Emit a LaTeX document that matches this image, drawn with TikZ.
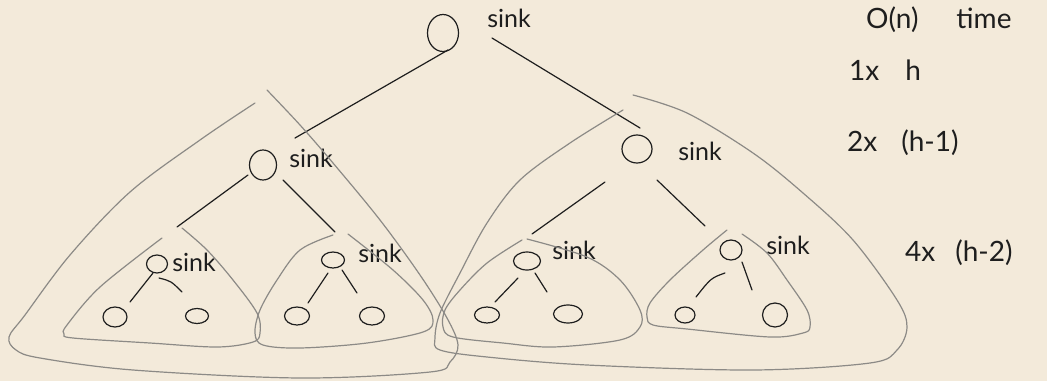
\documentclass[tikz,border=0pt]{standalone}
\usepackage{fontspec}
\setmainfont{Lato}
\usetikzlibrary{shapes.geometric}
\definecolor{paper}{RGB}{243,234,218}
\definecolor{ink}{RGB}{30,30,30}
\definecolor{pencil}{RGB}{140,138,134}
\tikzset{
  vert/.style 2 args={draw=ink, line width=1.2pt, ellipse, inner sep=0pt,
    minimum width=#1pt, minimum height=#2pt},
  edge/.style={draw=ink, line width=1.2pt, line cap=round},
  hull/.style={draw=pencil, line width=1.2pt, line cap=round,
    smooth, tension=0.55},
  lbl/.style={font=\fontsize{25}{27}\selectfont, text=ink, inner sep=0pt},
  note/.style={font=\fontsize{28}{30}\selectfont, text=ink, inner sep=0pt, anchor=west}
}
\begin{document}
\begin{tikzpicture}[x=1pt, y=-1pt]
\fill[paper] (0,0) rectangle (1047,381);
\useasboundingbox (0,0) rectangle (1047,381);

% vertices of the heap
\node[vert={31}{37}] (r)   at (443,33)  {};
\node[vert={27}{30}] (L)   at (263,165) {};
\node[vert={30}{28}] (R)   at (637,149) {};
\node[vert={21}{18}] (LL)  at (157,264) {};
\node[vert={23}{16}] (LR)  at (333,260) {};
\node[vert={27}{18}] (RL)  at (527,261) {};
\node[vert={22}{20}] (RR)  at (731,250) {};
\node[vert={24}{20}] (LLa) at (115,317) {};
\node[vert={23}{15}] (LLb) at (197,316) {};
\node[vert={25}{18}] (LRa) at (297,316) {};
\node[vert={25}{18}] (LRb) at (372,316) {};
\node[vert={25}{16}] (RLa) at (487,315) {};
\node[vert={29}{18}] (RLb) at (568,314) {};
\node[vert={20}{16}] (RRa) at (685,315) {};
\node[vert={25}{24}] (RRb) at (775,315) {};

% tree edges
\draw[edge] ([shift={(5,17)}]r.center)   -- ([shift={(32,-27)}]L.center);
\draw[edge] ([shift={(49,5)}]r.center)   -- ([shift={(3,-21)}]R.center);
\draw[edge] ([shift={(-15,10)}]L.center) -- ([shift={(20,-37)}]LL.center);
\draw[edge] ([shift={(20,15)}]L.center)  -- ([shift={(2,-28)}]LR.center);
\draw[edge] ([shift={(-32,33)}]R.center) -- ([shift={(5,-27)}]RL.center);
\draw[edge] ([shift={(20,31)}]R.center)  -- ([shift={(-26,-24)}]RR.center);
\draw[edge] ([shift={(-4,9)}]LL.center)  -- ([shift={(15,-15)}]LLa.center);
\draw[edge] ([shift={(2,14)}]LL.center) .. controls ([shift={(14,17)}]LL.center) .. ([shift={(-15,-24)}]LLb.center);
\draw[edge] ([shift={(-5,13)}]LR.center) -- ([shift={(11,-13)}]LRa.center);
\draw[edge] ([shift={(9,10)}]LR.center)  -- ([shift={(-15,-23)}]LRb.center);
\draw[edge] ([shift={(-9,17)}]RL.center) -- ([shift={(8,-13)}]RLa.center);
\draw[edge] ([shift={(8,12)}]RL.center)  -- ([shift={(-21,-22)}]RLb.center);
\draw[edge] ([shift={(-6,23)}]RR.center) .. controls ([shift={(-20,28)}]RR.center) .. ([shift={(11,-18)}]RRa.center);
\draw[edge] ([shift={(11,12)}]RR.center) -- ([shift={(-23,-25)}]RRb.center);

% sink labels
\node[lbl] (rs)  at (509,18)  {sink};
\node[lbl] (Ls)  at (311,158) {sink};
\node[lbl] (Rs)  at (700,151) {sink};
\node[lbl] (LLs) at (194,262) {sink};
\node[lbl] (LRs) at (380,253) {sink};
\node[lbl] (RLs) at (574,250) {sink};
\node[lbl] (RRs) at (788,245) {sink};

% subtree hulls
\draw[hull] plot coordinates {(255,103) (200,140) (130,192) (70,255) (25,315) (9,337) (16,350) (40,358) (133,370) (300,378) (430,372) (450,362) (458,345) (447,318) (420,275) (380,220) (333,163) (300,125) (267,90)};
\draw[hull] plot coordinates {(162,238) (100,287) (67,325) (64,334) (73,338) (150,343) (217,347) (253,342) (260,333) (257,313) (233,280) (207,250) (182,228)};
\draw[hull] plot coordinates {(333,235) (300,250) (277,280) (260,310) (255,333) (263,345) (300,348) (367,343) (423,332) (433,320) (423,300) (393,270) (348,234)};
\draw[hull] plot coordinates {(623,110) (570,143) (520,180) (487,223) (460,273) (440,313) (435,338) (440,350) (487,357) (587,365) (753,370) (870,363) (897,350) (907,327) (897,300) (853,240) (803,193) (753,153) (687,113) (633,95)};
\draw[hull] plot coordinates {(522,240) (487,263) (460,290) (445,310) (443,327) (453,337) (503,343) (553,347) (620,340) (640,327) (640,310) (620,280) (587,257) (527,239)};
\draw[hull] plot coordinates {(727,230) (703,250) (670,280) (650,303) (647,317) (653,325) (687,329) (770,337) (803,333) (810,327) (807,310) (787,280) (767,253) (742,234)};

% cost per level
\node[note] (cost) at (866,20)  {O(n)\hspace{38pt}time};
\node[note] (lv0)  at (849,70)  {1x\hspace{26pt}h};
\node[note] (lv1)  at (847,143) {2x\hspace{24pt}(h-1)};
\node[note] (lv2)  at (905,253) {4x\hspace{20pt}(h-2)};
\end{tikzpicture}
\end{document}
